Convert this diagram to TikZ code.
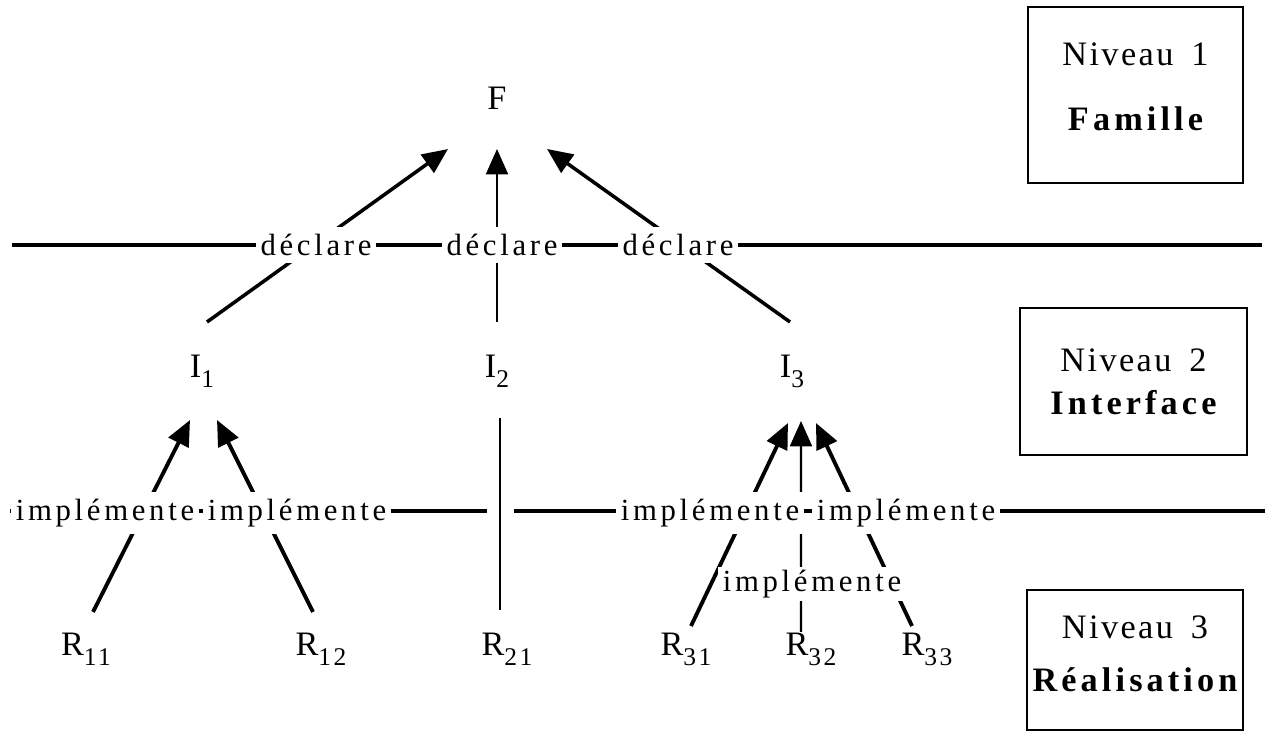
\documentclass[tikz,border=0pt]{standalone}
\usepackage{fontspec}
\setmainfont{Liberation Serif}
\newfontfamily\tagfont{Liberation Serif}[LetterSpace=12]
\newfontfamily\subfont{Liberation Serif}[LetterSpace=10]
\newfontfamily\lvlfont{Liberation Serif}[LetterSpace=7]
\newfontfamily\lvlbold{Liberation Serif}[LetterSpace=12]
\usepackage{tikz}
\usetikzlibrary{arrows.meta,positioning}
\newcommand{\idx}[1]{\raisebox{-5.5pt}{\subfont\fontsize{14.5}{14.5}\selectfont #1}}

\begin{document}
\begin{tikzpicture}[
        x=1cm,
        y=1cm,
        >={Triangle[length=14.5pt,width=12.5pt]},
        elem/.style={anchor=base, inner sep=0pt, font=\fontsize{19.5}{23}\selectfont},
        lvlbox/.style={
            draw,
            line width=1.1pt,
            align=center,
            inner sep=0pt,
            font=\lvlfont\fontsize{19.5}{23}\selectfont
        },
        tag/.style={fill=white, inner xsep=2.5pt, inner ysep=4pt, font=\tagfont\fontsize{17.5}{20}\selectfont},
        divider/.style={line width=2.8pt},
        decl/.style={->, line width=2pt},
        impl/.style={->, line width=2.2pt},
        straight/.style={line width=1.4pt}
    ]
        \useasboundingbox (0,0) rectangle (25.36,14.62);

        % Level boxes on the right.
        \node[lvlbox, minimum width=4.3cm, minimum height=3.52cm] (niv1) at (22.71,12.72) {Niveau\hspace{4pt} 1\\[14pt]{\lvlbold\bfseries Famille}\\[-14pt]};
        \node[lvlbox, minimum width=4.54cm, minimum height=2.94cm] (niv2) at (22.67,6.99) {Niveau\hspace{4pt} 2\\[1.5pt]{\lvlbold\bfseries Interface}};
        \node[lvlbox, minimum width=4.32cm, minimum height=2.8cm] (niv3) at (22.7,1.42) {Niveau\hspace{4pt} 3\\[7pt]{\lvlbold\bfseries Réalisation}\\[-16pt]};

        % Level separators.
        \coordinate (dwest) at (0.24,9.72);
        \coordinate (deast) at (25.24,9.72);
        \coordinate (iwest) at (0.2,4.4);
        \coordinate (ieast) at (25.3,4.4);
        \draw[divider] (dwest) -- (deast);
        \draw[divider] (iwest) -- (ieast);

        \node[elem] (f) at (9.94,12.42) {F};
        \node[elem] (i1) at (4.04,7.06) {I\idx{1}};
        \node[elem] (i2) at (9.94,7.06) {I\idx{2}};
        \node[elem] (i3) at (15.84,7.06) {I\idx{3}};
        \node[elem] (r11) at (1.72,1.5) {R\idx{11}};
        \node[elem] (r12) at (6.42,1.5) {R\idx{12}};
        \node[elem] (r21) at (10.14,1.5) {R\idx{21}};
        \node[elem] (r31) at (13.72,1.5) {R\idx{31}};
        \node[elem] (r32) at (16.22,1.5) {R\idx{32}};
        \node[elem] (r33) at (18.54,1.5) {R\idx{33}};

        % Interfaces declared by the family.
        \draw[decl] ([xshift=0.1cm,yshift=1.12cm]i1.base) -- ([xshift=-0.98cm,yshift=-0.78cm]f.base);
        \draw[->, straight] ([yshift=1.12cm]i2.base) -- ([yshift=-0.78cm]f.base);
        \draw[decl] ([xshift=-0.04cm,yshift=1.12cm]i3.base) -- ([xshift=1.0cm,yshift=-0.78cm]f.base);

        % Realisations implementing the interfaces.
        \draw[impl] ([xshift=0.14cm,yshift=0.88cm]r11.base) -- ([xshift=-0.24cm,yshift=-0.84cm]i1.base);
        \draw[impl] ([xshift=-0.16cm,yshift=0.88cm]r12.base) -- ([xshift=0.3cm,yshift=-0.84cm]i1.base);
        \draw[straight, preaction={draw=white, line width=0.54cm}] ([xshift=-0.14cm,yshift=0.92cm]r21.base) -- ([xshift=0.06cm,yshift=-0.8cm]i2.base);
        \draw[impl] ([xshift=0.1cm,yshift=0.6cm]r31.base) -- ([xshift=-0.08cm,yshift=-0.9cm]i3.base);
        \draw[->, straight] ([xshift=-0.2cm,yshift=0.48cm]r32.base) -- ([xshift=0.18cm,yshift=-0.86cm]i3.base);
        \draw[impl] ([xshift=-0.3cm,yshift=0.6cm]r33.base) -- ([xshift=0.48cm,yshift=-0.9cm]i3.base);

        \node[tag] (dec1) at (6.32,9.72) {déclare};
        \node[tag] (dec2) at (10.04,9.72) {déclare};
        \node[tag] (dec3) at (13.56,9.72) {déclare};
        \node[tag] (imp1) at (2.1,4.36) {implémente};
        \node[tag] (imp2) at (5.94,4.36) {implémente};
        \node[tag] (imp3) at (14.2,4.36) {implémente};
        \node[tag] (imp4) at (18.12,4.36) {implémente};
        \node[tag, inner ysep=2pt] (imp5) at (16.24,2.94) {implémente};

    \end{tikzpicture}
\end{document}
